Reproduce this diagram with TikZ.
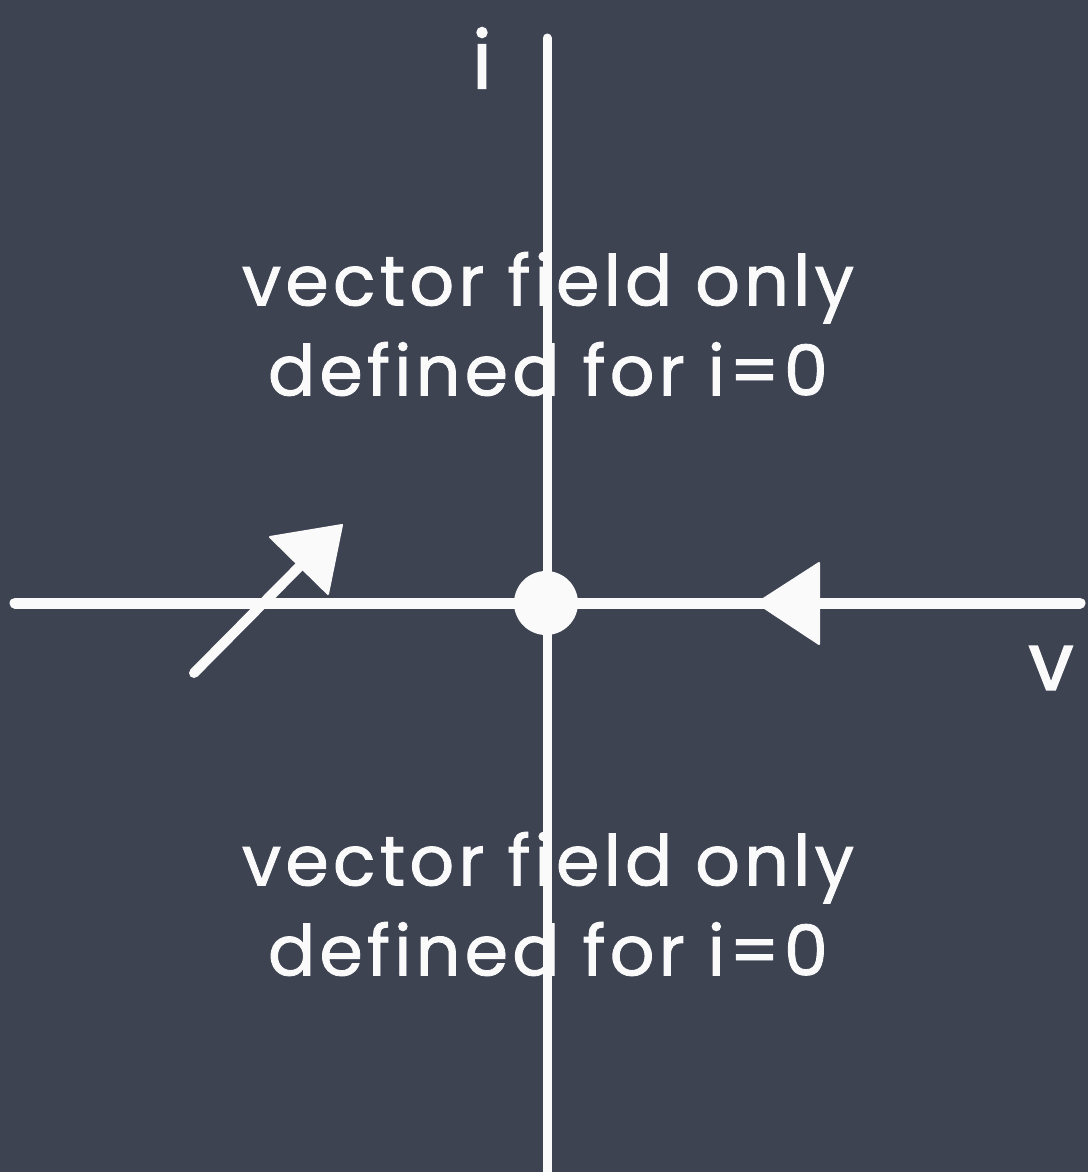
\documentclass[tikz,border=0pt]{standalone}
\usepackage{fontspec}
\setmainfont[Ligatures=CommonOff]{Poppins}
\newfontfamily\chalkfont[Ligatures=CommonOff, LetterSpace=6, FakeBold=1.2]{Poppins}
\newfontfamily\labelfont[FakeBold=2]{Poppins}
\usetikzlibrary{arrows.meta}
\definecolor{board}{RGB}{62,67,82}
\definecolor{chalk}{RGB}{250,250,250}
\tikzset{
  axisline/.style={draw=chalk, line width=9pt, line cap=round},
  chalktext/.style={text=chalk, font=\chalkfont\fontsize{70}{90}\selectfont, align=center},
  labeltext/.style={text=chalk, font=\labelfont\fontsize{80}{80}\selectfont},
  arrowtip/.style={fill=chalk, draw=chalk, line width=2pt, line join=round}
}
\begin{document}
\begin{tikzpicture}[x=1pt,y=-1pt]
  \fill[board] (0,0) rectangle (1088,1172);
  \useasboundingbox (0,0) rectangle (1088,1172);
  % axes
  \coordinate (itop) at (547,38);
  \coordinate (ibot) at (547,1172);
  \coordinate (vleft) at (15,603);
  \coordinate (vright) at (1080,603);
  \draw[axisline] (itop) -- (ibot);
  \draw[axisline, line width=11pt] (vleft) -- (vright);
  % fixed point
  \node[circle, fill=chalk, minimum size=64pt, inner sep=0pt] (origin) at (546,603) {};
  % left arrow
  \coordinate (a1s) at (194,673);
  \coordinate (a1e) at (300,566);
  \draw[axisline, line width=10pt] (a1s) -- (a1e);
  \coordinate (t1a) at (270,537);
  \coordinate (t1b) at (342,525);
  \coordinate (t1c) at (328,594);
  \fill[arrowtip] (t1a) -- (t1b) -- (t1c) -- cycle;
  % right arrow
  \coordinate (t2a) at (757,603);
  \coordinate (t2b) at (819,563);
  \coordinate (t2c) at (819,644);
  \fill[arrowtip] (t2a) -- (t2b) -- (t2c) -- cycle;
  % labels
  \node[labeltext] (ilabel) at (482,58) {i};
  \node[labeltext, anchor=west] (vlabel) at (1025,668) {v};
  \node[chalktext] (top) at (548,324) {vector field only\\defined for i=0};
  \node[chalktext] (bottom) at (548,904) {vector field only\\defined for i=0};
\end{tikzpicture}
\end{document}
